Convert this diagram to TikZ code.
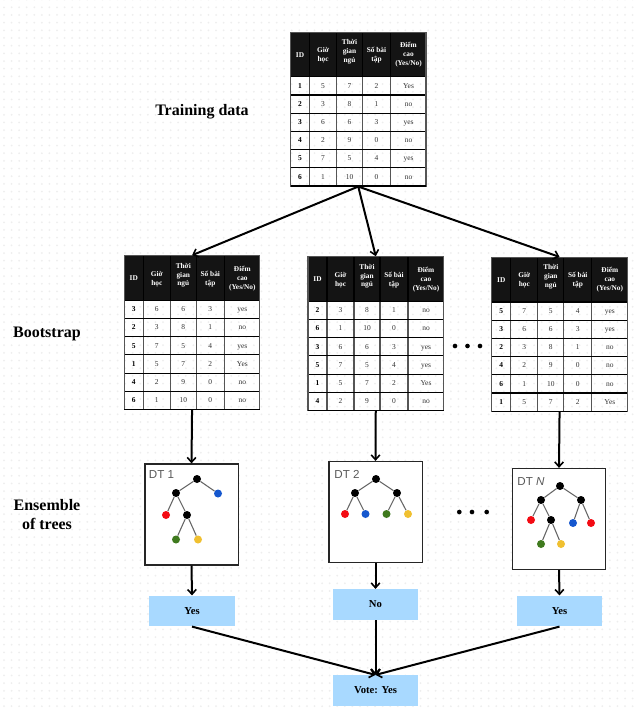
\documentclass[tikz,border=0pt]{standalone}
\usepackage{fontspec}
\setmainfont{Liberation Serif}
\newfontfamily\dtsans{Liberation Sans}
\usetikzlibrary{arrows.meta}
\definecolor{hdrblack}{HTML}{141414}
\definecolor{cellink}{HTML}{333333}
\definecolor{gridvert}{HTML}{555555}
\definecolor{boxblue}{HTML}{A8D9FF}
\definecolor{dotgrey}{HTML}{EEEEEE}
\definecolor{treeedge}{HTML}{666666}
\definecolor{tred}{HTML}{F30B13}
\definecolor{tblue}{HTML}{1557CE}
\definecolor{tgreen}{HTML}{3F7A1E}
\definecolor{tyellow}{HTML}{F0C030}
\tikzset{
  dotline/.style={dotgrey,line width=1.5pt,line cap=round,dash pattern=on 0pt off 5.68pt},
  tableframe/.style={draw=gridvert,line width=0.8pt,minimum width=101.6pt,minimum height=115.3pt,inner sep=0pt},
  hdrtext/.style={text=white,font=\fontsize{5.5}{6.7}\selectfont\bfseries,align=center,inner sep=0pt},
  idtext/.style={text=black,font=\fontsize{5.6}{6.7}\selectfont\bfseries,inner sep=0pt,text height=3.7pt,text depth=0.3pt},
  celltext/.style={text=cellink,font=\fontsize{5.6}{6.7}\selectfont,inner sep=0pt,text height=3.7pt,text depth=0.3pt},
  flowarrow/.style={draw=black,line width=1.5pt,-{Straight Barb[length=3.6pt,width=6.5pt,line width=1.2pt]}},
  dtbox/.style={draw=black!85,fill=white,line width=1pt,inner sep=0pt,minimum width=70pt,minimum height=75.7pt},
  votebox/.style={fill=boxblue,inner sep=0pt,minimum width=64pt,minimum height=23pt,font=\fontsize{8}{9}\selectfont\bfseries},
  sidelabel/.style={font=\fontsize{12}{14}\selectfont\bfseries,align=center,text=black,inner sep=0pt},
  dtlabel/.style={text=black!65,font=\dtsans\fontsize{8.7}{10}\selectfont,inner sep=0pt},
  treenode/.style={circle,fill=black,inner sep=0pt,minimum size=6pt},
  treeedgeline/.style={draw=treeedge,line width=0.8pt},
  ellipsisdot/.style={circle,fill=black,inner sep=0pt,minimum size=3.5pt},
}
% name, left, top, rows
\newcommand{\dstable}[4]{%
  \begin{scope}[shift={(#2,#3)}]
    \fill[hdrblack] (0,0) rectangle (135.5,44.5);
    \foreach \vx in {19,46,72,100}{
      \draw[black,line width=0.8pt] (\vx,0) -- (\vx,44.5);
      \draw[gridvert,line width=0.9pt] (\vx,44.5) -- (\vx,153.7);
    }
    \foreach \hy in {1,...,5}{
      \draw[black,line width=0.8pt] (0,{44.5+\hy*18.2}) -- (135.5,{44.5+\hy*18.2});
    }
    \draw[black,line width=0.8pt] (0,44.5) -- (135.5,44.5);
    \node[tableframe] (#1) at (67.75,76.85) {};
    \draw[black,line width=0.8pt] (0,153.7) -- (135.5,153.7);
    \node[hdrtext] (#1-h1) at (9.5,22.5) {ID};
    \node[hdrtext] (#1-h2) at (32.5,23) {Giờ\\học};
    \node[hdrtext] (#1-h3) at (59,19.5) {Thời\\gian\\ngủ};
    \node[hdrtext] (#1-h4) at (86,23) {Số bài\\tập};
    \node[hdrtext] (#1-h5) at (118,22.5) {Điểm\\cao\\(Yes/No)};
    \foreach \ca/\cb/\cc/\cd/\ce [count=\ri] in {#4}{
      \node[idtext] (#1-\ri-a) at (9.5,{44.5+(\ri-0.5)*18.2}) {\ca};
      \node[celltext] (#1-\ri-b) at (32.5,{44.5+(\ri-0.5)*18.2}) {\cb};
      \node[celltext] (#1-\ri-c) at (59,{44.5+(\ri-0.5)*18.2}) {\cc};
      \node[celltext] (#1-\ri-d) at (86,{44.5+(\ri-0.5)*18.2}) {\cd};
      \node[celltext] (#1-\ri-e) at (118,{44.5+(\ri-0.5)*18.2}) {\ce};
    }
  \end{scope}%
}
\begin{document}
\begin{tikzpicture}[x=0.75pt,y=-0.75pt]
  \path[use as bounding box,fill=white] (0,0) rectangle (638,712);
  \foreach \dy in {0,...,92}{
    \draw[dotline] (4,{-0.4+\dy*7.68}) -- (638,{-0.4+\dy*7.68});
  }

  % labels
  \node[sidelabel] (lbltrain) at (202,112) {Training data};
  \node[sidelabel] (lblboot) at (47,334) {Bootstrap};
  \node[sidelabel] (lblens) at (47,514.5) {Ensemble\\of trees};

  % tables
  \dstable{tmain}{290.5}{32.3}{1/5/7/2/Yes,2/3/8/1/no,3/6/6/3/yes,4/2/9/0/no,5/7/5/4/yes,6/1/10/0/no}
  \dstable{tone}{124.3}{255.8}{3/6/6/3/yes,2/3/8/1/no,5/7/5/4/yes,1/5/7/2/Yes,4/2/9/0/no,6/1/10/0/no}
  \dstable{ttwo}{308}{256.8}{2/3/8/1/no,6/1/10/0/no,3/6/6/3/yes,5/7/5/4/yes,1/5/7/2/Yes,4/2/9/0/no}
  \dstable{tthree}{491.8}{257.5}{5/7/5/4/yes,3/6/6/3/yes,2/3/8/1/no,4/2/9/0/no,6/1/10/0/no,1/5/7/2/Yes}

  % decision tree boxes
  \node[dtbox] (dtone) at (191.5,514.5) {};
  \node[dtbox] (dttwo) at (375.5,512) {};
  \node[dtbox] (dtn) at (559,519) {};
  \node[dtlabel] (dtonel) at (161.5,474.5) {DT 1};
  \node[dtlabel] (dttwol) at (347,474) {DT 2};
  \node[dtlabel] (dtnl) at (531,482) {DT \textit{N}};

  % tree 1
  \node[treenode] (a0) at (197,479) {};
  \node[treenode] (a1) at (176,493) {};
  \node[treenode,fill=tblue] (a2) at (218,493.5) {};
  \node[treenode,fill=tred] (a3) at (166,515) {};
  \node[treenode] (a4) at (187,515) {};
  \node[treenode,fill=tgreen] (a5) at (176,539.5) {};
  \node[treenode,fill=tyellow] (a6) at (198,539.5) {};
  \draw[treeedgeline] (a0)--(a1) (a0)--(a2) (a1)--(a3) (a1)--(a4) (a4)--(a5) (a4)--(a6);

  % tree 2
  \node[treenode] (b0) at (376,479) {};
  \node[treenode] (b1) at (355,493) {};
  \node[treenode] (b2) at (397,493) {};
  \node[treenode,fill=tred] (b3) at (345,514) {};
  \node[treenode,fill=tblue] (b4) at (365.5,514) {};
  \node[treenode,fill=tgreen] (b5) at (386.5,514) {};
  \node[treenode,fill=tyellow] (b6) at (408,514) {};
  \draw[treeedgeline] (b0)--(b1) (b0)--(b2) (b1)--(b3) (b1)--(b4) (b2)--(b5) (b2)--(b6);

  % tree N
  \node[treenode] (c0) at (560,486) {};
  \node[treenode] (c1) at (541,500) {};
  \node[treenode] (c2) at (581,500) {};
  \node[treenode,fill=tred] (c3) at (531,520) {};
  \node[treenode] (c4) at (551,520) {};
  \node[treenode,fill=tblue] (c5) at (573,523) {};
  \node[treenode,fill=tred] (c6) at (591,523) {};
  \node[treenode,fill=tgreen] (c7) at (541,544) {};
  \node[treenode,fill=tyellow] (c8) at (561,544) {};
  \draw[treeedgeline] (c0)--(c1) (c0)--(c2) (c1)--(c3) (c1)--(c4) (c2)--(c5) (c2)--(c6) (c4)--(c7) (c4)--(c8);

  % decision boxes
  \node[votebox] (yesone) at (192,611) {Yes};
  \node[votebox] (nobox) at (375.5,604.5) {No};
  \node[votebox] (yestwo) at (559.5,611) {Yes};
  \node[votebox] (vote) at (375.5,690.5) {Vote: Yes};

  % ellipsis dots
  \node[ellipsisdot] (ua) at (455,346) {};
  \node[ellipsisdot] (ub) at (467.5,346) {};
  \node[ellipsisdot] (uc) at (480,346) {};
  \node[ellipsisdot] (la) at (459.3,512) {};
  \node[ellipsisdot] (lb) at (472,512) {};
  \node[ellipsisdot] (lc) at (486.7,512) {};

  % connectors
  \draw[flowarrow] (tmain.south) -- (tone.north);
  \draw[flowarrow] (tmain.south) -- (ttwo.north);
  \draw[flowarrow] (tmain.south) -- (tthree.north);
  \draw[flowarrow] (tone.south) -- (dtone.north);
  \draw[flowarrow] (ttwo.south) -- (dttwo.north);
  \draw[flowarrow] (tthree.south) -- (dtn.north);
  \draw[flowarrow] (dtone.south) -- (yesone.north);
  \draw[flowarrow] (dttwo.south) -- (nobox.north);
  \draw[flowarrow] (dtn.south) -- (yestwo.north);
  \draw[flowarrow] (yesone.south) -- (vote.north);
  \draw[flowarrow] (nobox.south) -- (vote.north);
  \draw[flowarrow] (yestwo.south) -- (vote.north);
\end{tikzpicture}
\end{document}
